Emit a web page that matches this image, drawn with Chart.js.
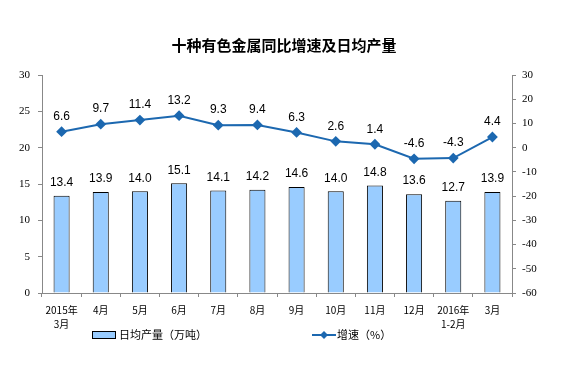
<!DOCTYPE html>
<html lang="zh">
<head>
  <meta charset="UTF-8" />
  <title>十种有色金属同比增速及日均产量</title>
  <script src="https://cdn.jsdelivr.net/npm/chart.js"></script>
  <style>
    html, body { margin: 0; padding: 0; background: #fff; }
    #wrap { width: 581px; height: 371px; position: relative; }
  </style>
</head>
<body>
  <div id="wrap"><canvas id="chart" width="581" height="371"></canvas></div>

  <script>
    const months = [["2015年", "3月"], "4月", "5月", "6月", "7月", "8月", "9月", "10月", "11月", "12月", ["2016年", "1-2月"], "3月"];
    const dailyOutput = [13.4, 13.9, 14.0, 15.1, 14.1, 14.2, 14.6, 14.0, 14.8, 13.6, 12.7, 13.9];
    const growthRate = [6.6, 9.7, 11.4, 13.2, 9.3, 9.4, 6.3, 2.6, 1.4, -4.6, -4.3, 4.4];

    const titleText = "十种有色金属同比增速及日均产量";
    const barLegend = "日均产量（万吨）";
    const lineLegend = "增速（%）";

    const barColor = "#99ccff";
    const lineColor = "#1c68b0";
    const cjk = "'Noto Sans CJK SC', sans-serif";

    // title, value labels and legend drawn by hand
    const extras = {
      id: "extras",
      afterDatasetsDraw(chart) {
        const ctx = chart.ctx;
        ctx.save();
        ctx.fillStyle = "#000";
        ctx.textAlign = "center";
        ctx.textBaseline = "middle";
        ctx.font = "bold 15px " + cjk;
        ctx.fillText(titleText, 284, 45);

        ctx.font = "12px 'Liberation Sans', Arial, sans-serif";
        chart.getDatasetMeta(0).data.forEach((bar, i) => {
          ctx.fillText(dailyOutput[i].toFixed(1), bar.x, bar.y - 13);
        });
        chart.getDatasetMeta(1).data.forEach((pt, i) => {
          ctx.fillText(growthRate[i].toFixed(1), pt.x, pt.y - 15);
        });

        // legend
        const ly = 335;
        ctx.fillStyle = barColor;
        ctx.strokeStyle = "#000";
        ctx.lineWidth = 1;
        ctx.fillRect(92, ly - 4, 24, 7);
        ctx.strokeRect(92.5, ly - 3.5, 23, 7);
        ctx.fillStyle = "#000";
        ctx.textAlign = "left";
        ctx.font = "11px " + cjk;
        ctx.fillText(barLegend, 119, ly);

        ctx.strokeStyle = lineColor;
        ctx.lineWidth = 2;
        ctx.beginPath();
        ctx.moveTo(312, ly);
        ctx.lineTo(336, ly);
        ctx.stroke();
        ctx.fillStyle = lineColor;
        ctx.beginPath();
        ctx.moveTo(324, ly - 4);
        ctx.lineTo(328, ly);
        ctx.lineTo(324, ly + 4);
        ctx.lineTo(320, ly);
        ctx.closePath();
        ctx.fill();
        ctx.fillStyle = "#000";
        ctx.fillText(lineLegend, 337, ly);
        ctx.restore();
      }
    };

    new Chart(document.getElementById("chart").getContext("2d"), {
      data: {
        labels: months,
        datasets: [
          {
            type: "bar",
            label: barLegend,
            data: dailyOutput,
            backgroundColor: barColor,
            borderColor: "#000",
            borderWidth: 1,
            barPercentage: 0.41,
            categoryPercentage: 1,
            yAxisID: "y",
            order: 2
          },
          {
            type: "line",
            label: lineLegend,
            data: growthRate,
            borderColor: lineColor,
            backgroundColor: lineColor,
            borderWidth: 2,
            pointStyle: "rectRot",
            pointRadius: 4,
            tension: 0,
            yAxisID: "y1",
            order: 1
          }
        ]
      },
      options: {
        responsive: false,
        animation: false,
        layout: { padding: { top: 75, left: 0, right: 0, bottom: 0 } },
        plugins: {
          legend: { display: false },
          title: { display: false },
          tooltip: { enabled: false }
        },
        scales: {
          x: {
            offset: true,
            grid: { offset: true, drawOnChartArea: false, color: "#888", tickLength: 4 },
            border: { color: "#888" },
            ticks: {
              color: "#000",
              font: { family: cjk, size: 10, lineHeight: 1.4 },
              padding: 6,
              maxRotation: 0,
              autoSkip: false
            },
            afterFit(axis) { axis.height = 78; }
          },
          y: {
            position: "left",
            min: 0,
            max: 30,
            grid: { drawOnChartArea: false, color: "#888", tickLength: 4 },
            border: { color: "#888" },
            ticks: {
              stepSize: 5,
              color: "#000",
              font: { family: "'Liberation Serif', serif", size: 11 },
              padding: 8
            },
            afterFit(axis) { axis.width = 42; }
          },
          y1: {
            position: "right",
            min: -60,
            max: 30,
            grid: { drawOnChartArea: false, color: "#888", tickLength: 4 },
            border: { color: "#888" },
            ticks: {
              stepSize: 10,
              color: "#000",
              font: { family: "'Liberation Serif', serif", size: 11 },
              padding: 6
            },
            afterFit(axis) { axis.width = 69; }
          }
        }
      },
      plugins: [extras]
    });
  </script>
</body>
</html>
